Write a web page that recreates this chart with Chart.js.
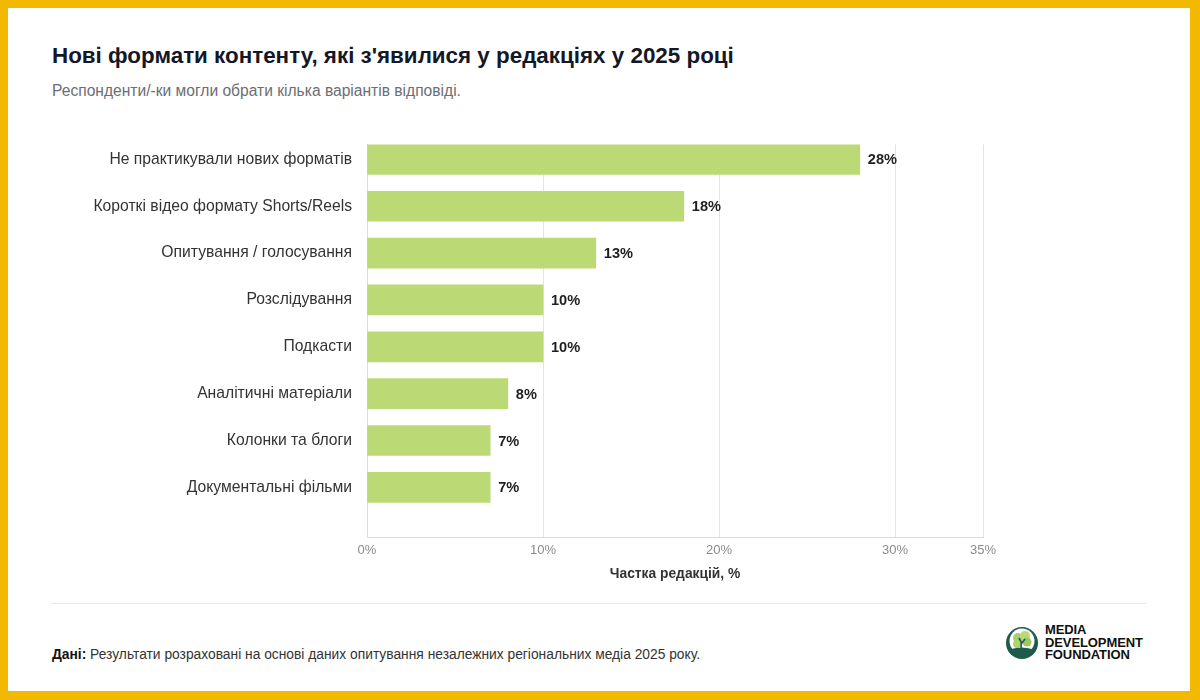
<!DOCTYPE html>
<html lang="uk">
<head>
<meta charset="utf-8">
<script src="https://cdn.jsdelivr.net/npm/chart.js@4.4.1/dist/chart.umd.min.js"></script>
<style>
  html, body { margin: 0; padding: 0; }
  body {
    width: 1200px; height: 700px; background: #f3b900;
    font-family: 'Liberation Sans', Arial, sans-serif; position: relative; overflow: hidden;
  }
  .card { position: absolute; left: 8px; top: 8px; width: 1182px; height: 683px; background: #fff; }
  h1 { position: absolute; left: 52px; top: 43px; margin: 0; font-size: 22.4px; font-weight: 700; color: #141826; }
  .sub { position: absolute; left: 52px; top: 82px; font-size: 15.6px; color: #6b6e73; }
  .chart-box { position: absolute; left: 40px; top: 120px; width: 1000px; height: 470px; }
  .rule { position: absolute; left: 52px; top: 603px; width: 1094px; height: 1px; background: #e8e8e8; }
  .note { position: absolute; left: 52px; top: 647px; font-size: 13.8px; color: #333; }
  .note b { color: #111; }
  .logo { position: absolute; left: 1005px; top: 624px; display: flex; align-items: center; }
  .logo .txt { font-size: 13px; font-weight: 700; line-height: 12.5px; color: #111; margin-left: 6px; letter-spacing: -0.1px; }
</style>
</head>
<body>
<div class="card"></div>
<h1>Нові формати контенту, які з'явилися у редакціях у 2025 році</h1>
<div class="sub">Респонденти/-ки могли обрати кілька варіантів відповіді.</div>
<div class="chart-box"><canvas id="chart"></canvas></div>
<div class="rule"></div>
<div class="note"><b>Дані:</b> Результати розраховані на основі даних опитування незалежних регіональних медіа 2025 року.</div>
<div class="logo">
  <svg width="34" height="34" viewBox="0 0 34 34">
    <circle cx="17" cy="17" r="16" fill="#1d5b4a"/>
    <circle cx="17" cy="15" r="12.5" fill="#fff"/>
    <circle cx="13" cy="12" r="5" fill="#a9cf6a"/>
    <circle cx="20" cy="10" r="5" fill="#b9da74"/>
    <circle cx="22" cy="16" r="4.5" fill="#9cc85e"/>
    <circle cx="12" cy="18" r="4" fill="#b0d46c"/>
    <path d="M16 27 L16.2 16 L14 12 M16.2 18 L20 13" stroke="#1d5b4a" stroke-width="1.6" fill="none"/>
    <path d="M4 24 Q17 19 30 24 L28 28 Q17 33 6 28 Z" fill="#1d5b4a"/>
  </svg>
  <div class="txt">MEDIA<br>DEVELOPMENT<br>FOUNDATION</div>
</div>

<script>
const categories = [
  'Не практикували нових форматів',
  'Короткі відео формату Shorts/Reels',
  'Опитування / голосування',
  'Розслідування',
  'Подкасти',
  'Аналітичні матеріали',
  'Колонки та блоги',
  'Документальні фільми',
];
const shares = [28, 18, 13, 10, 10, 8, 7, 7];
const xTicks = [0, 10, 20, 30, 35];

const FONT = "'Liberation Sans', Arial, sans-serif";
const GRID = '#e4e4e4';

// підписи значень праворуч від стовпчиків
const valueLabels = {
  id: 'valueLabels',
  afterDatasetsDraw(chart) {
    const { ctx } = chart;
    const meta = chart.getDatasetMeta(0);
    ctx.save();
    ctx.fillStyle = '#1f1f1f';
    ctx.font = `bold 14.6px ${FONT}`;
    ctx.textBaseline = 'middle';
    meta.data.forEach((bar, i) => {
      ctx.fillText(`${shares[i]}%`, bar.x + 8, bar.y + 1);
    });
    ctx.restore();
  },
};

new Chart(document.getElementById('chart'), {
  type: 'bar',
  data: {
    datasets: [{
      data: shares.map((v, i) => ({ x: v, y: i })),
      backgroundColor: '#bbda76',
      barThickness: 30,
    }],
  },
  options: {
    indexAxis: 'y',
    responsive: true,
    maintainAspectRatio: false,
    animation: false,
    layout: { padding: { top: 23, right: 57, left: 0, bottom: 8 } },
    plugins: { legend: { display: false }, tooltip: { enabled: false } },
    scales: {
      x: {
        type: 'linear',
        min: 0, max: 35,
        afterBuildTicks: s => { s.ticks = xTicks.map(v => ({ value: v })); },
        afterFit: s => { s.height = 45; },
        ticks: {
          color: '#8a8a8a',
          font: { family: FONT, size: 13 },
          padding: 6,
          callback: v => `${v}%`,
        },
        grid: { color: GRID, drawTicks: false },
        border: { color: '#dcdcdc' },
        title: {
          display: true,
          text: 'Частка редакцій, %',
          color: '#333',
          font: { family: FONT, size: 13.8, weight: 'bold' },
          padding: { top: 4, bottom: 0 },
        },
      },
      y: {
        type: 'linear',
        reverse: true,
        offset: false,
        min: -0.32, max: 8.06,
        afterBuildTicks: s => { s.ticks = categories.map((_, i) => ({ value: i })); },
        afterFit: s => { s.width = 327; },
        ticks: {
          color: '#333',
          font: { family: FONT, size: 15.7 },
          padding: 15,
          callback: v => categories[v],
        },
        grid: { display: false, drawTicks: false },
        border: { display: true, color: '#dcdcdc' },
      },
    },
  },
  plugins: [valueLabels],
});
</script>
</body>
</html>
